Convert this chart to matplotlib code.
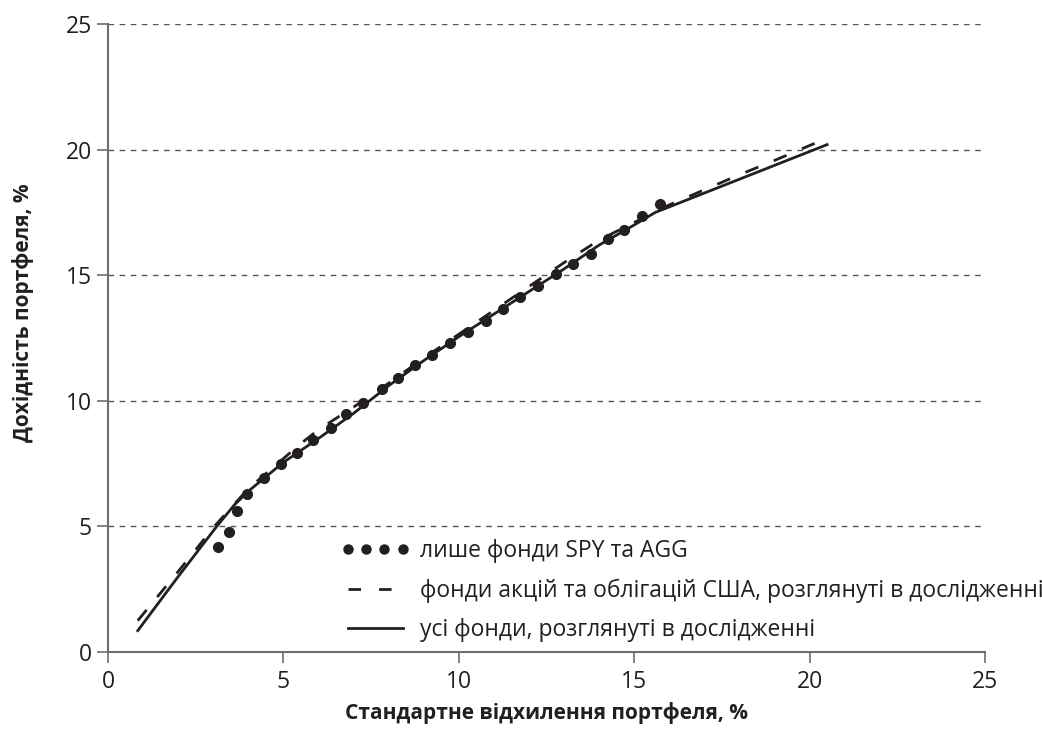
import matplotlib
matplotlib.use("Agg")
import matplotlib.pyplot as plt
from matplotlib.lines import Line2D

# лише фонди SPY та AGG (точки)
spy_agg_std = [3.14, 3.45, 3.68, 3.97, 4.44, 4.92, 5.40, 5.85, 6.35, 6.79, 7.27, 7.80,
               8.27, 8.75, 9.24, 9.75, 10.26, 10.77, 11.26, 11.75, 12.26, 12.76, 13.26,
               13.77, 14.25, 14.70, 15.23, 15.75]
spy_agg_ret = [4.19, 4.78, 5.63, 6.30, 6.93, 7.48, 7.93, 8.44, 8.93, 9.47, 9.92, 10.46,
               10.92, 11.43, 11.84, 12.31, 12.75, 13.19, 13.67, 14.12, 14.57, 15.05, 15.46,
               15.84, 16.43, 16.80, 17.34, 17.82]

# фонди акцій та облігацій США (пунктир)
us_std = [0.85, 2.0, 3.05, 4.0, 5.0, 5.5, 6.0, 7.0, 8.0, 9.0, 10.0, 11.0, 12.0, 13.0,
          14.0, 15.0, 16.0, 17.0, 18.0, 19.0, 20.4]
us_ret = [1.25, 3.2, 5.03, 6.5, 7.7, 8.3, 8.85, 9.75, 10.7, 11.7, 12.65, 13.6, 14.55,
          15.5, 16.4, 17.1, 17.8, 18.4, 19.0, 19.57, 20.4]

# усі фонди (суцільна)
all_std = [0.85, 2.0, 3.1, 3.6, 4.0, 5.0, 6.0, 7.0, 8.0, 9.0, 10.0, 11.0, 12.0, 13.0,
           14.0, 15.0, 15.6, 20.5]
all_ret = [0.85, 3.0, 5.0, 5.85, 6.4, 7.55, 8.5, 9.5, 10.6, 11.6, 12.55, 13.45, 14.35,
           15.25, 16.2, 17.0, 17.5, 20.2]

labels = [
    "лише фонди SPY та AGG",
    "фонди акцій та облігацій США, розглянуті в дослідженні",
    "усі фонди, розглянуті в дослідженні",
]
ticks = [0, 5, 10, 15, 20, 25]

plt.rcParams["font.family"] = ["Open Sans", "DejaVu Sans"]
text_color = "#231f20"
spine_color = "#6d6e71"

fig = plt.figure(figsize=(10.42, 7.35), dpi=100)
ax = fig.add_axes([0.1036, 0.1129, 0.8417, 0.8544])

for t in ticks[1:]:
    ax.axhline(t, color="#555555", linewidth=1.0, linestyle=(0, (4, 4)), zorder=1)

ax.plot(us_std, us_ret, color="#231f20", linewidth=2.0, linestyle=(0, (5, 6)), zorder=3)
ax.plot(all_std, all_ret, color="#231f20", linewidth=2.0, zorder=3)
ax.plot(spy_agg_std, spy_agg_ret, "o", color="#231f20", markersize=7, zorder=4)

ax.set_xlim(0, 25)
ax.set_ylim(0, 25)
ax.set_xticks(ticks)
ax.set_yticks(ticks)
ax.tick_params(axis="both", labelsize=16.5, colors=spine_color, labelcolor=text_color,
               length=8, width=1.2, direction="out")
ax.tick_params(axis="x", pad=5)
for side in ["top", "right"]:
    ax.spines[side].set_visible(False)
for side in ["left", "bottom"]:
    ax.spines[side].set_color(spine_color)
    ax.spines[side].set_linewidth(1.5)

ax.set_xlabel("Стандартне відхилення портфеля, %", fontsize=15, fontweight="bold",
              color=text_color)
ax.xaxis.set_label_coords(0.5, -0.08)
ax.set_ylabel("Дохідність портфеля, %", fontsize=15, fontweight="bold",
              color=text_color)
ax.yaxis.set_label_coords(-0.084, 0.54)

# легенда: свої маркери, щоб пунктир мав три штрихи
handles = [
    Line2D([], [], linestyle="none", marker="o", markersize=6.5, color="#231f20"),
    Line2D([], [], linestyle=(0, (4.5, 6.5)), linewidth=2.0, color="#231f20"),
    Line2D([], [], linestyle="-", linewidth=2.0, color="#231f20"),
]
leg = fig.legend(handles, labels, loc="upper left", bbox_to_anchor=(320 / 1042, 1 - 518 / 735),
                 frameon=False, numpoints=4, handlelength=3.0, handletextpad=0.45,
                 labelspacing=0.68, fontsize=16.5, labelcolor=text_color)

fig.savefig("out.png", dpi=100)
